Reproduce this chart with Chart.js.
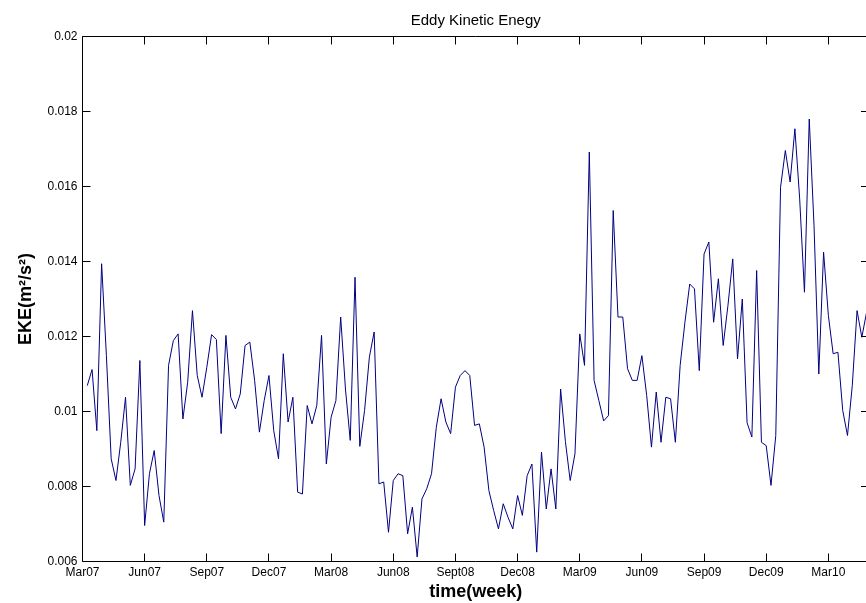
<!DOCTYPE html>
<html>
<head>
<meta charset="utf-8">
<title>Eddy Kinetic Enegy</title>
<script src="https://cdn.jsdelivr.net/npm/chart.js@4.4.1/dist/chart.umd.min.js"></script>
<style>
  html, body { margin: 0; padding: 0; background: #fff; overflow: hidden; }
  canvas { display: block; }
</style>
</head>
<body>
<canvas id="ekeChart" width="872" height="603"></canvas>
<script>
// weekly EKE, first value is week 1 after the Mar07 tick
const ekeValues = [
  0.01069, 0.01112, 0.00949, 0.01394, 0.01149, 0.00874, 0.00816, 0.00918, 0.01038, 0.00803,
  0.00847, 0.01136, 0.00696, 0.00834, 0.00896, 0.00776, 0.00705, 0.01123, 0.01189, 0.01207,
  0.00980, 0.01078, 0.01269, 0.01096, 0.01038, 0.01118, 0.01205, 0.01192, 0.00941, 0.01203,
  0.01038, 0.01007, 0.01047, 0.01176, 0.01185, 0.01083, 0.00945, 0.01029, 0.01096, 0.00949,
  0.00874, 0.01154, 0.00972, 0.01038, 0.00785, 0.00780, 0.01016, 0.00967, 0.01016, 0.01203,
  0.00860, 0.00985, 0.01029, 0.01252, 0.01060, 0.00923, 0.01358, 0.00907, 0.01003, 0.01145,
  0.01212, 0.00807, 0.00812, 0.00678, 0.00816, 0.00834, 0.00829, 0.00674, 0.00745, 0.00612,
  0.00767, 0.00794, 0.00834, 0.00958, 0.01034, 0.00972, 0.00941, 0.01065, 0.01096, 0.01109,
  0.01096, 0.00963, 0.00967, 0.00905, 0.00789, 0.00736, 0.00687, 0.00754, 0.00718, 0.00687,
  0.00776, 0.00723, 0.00829, 0.00860, 0.00625, 0.00892, 0.00740, 0.00847, 0.00740, 0.01060,
  0.00920, 0.00816, 0.00887, 0.01207, 0.01123, 0.01692, 0.01083, 0.01029, 0.00975, 0.00989,
  0.01536, 0.01252, 0.01252, 0.01114, 0.01083, 0.01083, 0.01149, 0.01043, 0.00905, 0.01052,
  0.00918, 0.01038, 0.01034, 0.00918, 0.01123, 0.01238, 0.01340, 0.01327, 0.01109, 0.01420,
  0.01452, 0.01238, 0.01354, 0.01176, 0.01283, 0.01407, 0.01140, 0.01300, 0.00970, 0.00932,
  0.01376, 0.00918, 0.00909, 0.00803, 0.00936, 0.01598, 0.01696, 0.01612, 0.01754, 0.01567,
  0.01318, 0.01780, 0.01496, 0.01100, 0.01425, 0.01256, 0.01154, 0.01158, 0.01003, 0.00936,
  0.01069, 0.01269, 0.01198, 0.01265
];

// x ticks every 13 weeks (one season)
const weekTicks = [0, 13, 26, 39, 52, 65, 78, 91, 104, 117, 130, 143, 156];
const weekLabels = ['Mar07', 'Jun07', 'Sep07', 'Dec07', 'Mar08', 'Jun08', 'Sept08',
                    'Dec08', 'Mar09', 'Jun09', 'Sep09', 'Dec09', 'Mar10'];

const ekeTicks = [0.006, 0.008, 0.01, 0.012, 0.014, 0.016, 0.018, 0.02];
const ekeTickLabels = ['0.006', '0.008', '0.01', '0.012', '0.014', '0.016', '0.018', '0.02'];

const points = ekeValues.map((v, i) => ({ x: i + 1, y: v }));

const FONT = "'Liberation Sans', Arial, Helvetica, sans-serif";

// box round the axes with ticks pointing inwards
const axesBox = {
  id: 'axesBox',
  afterDatasetsDraw(chart) {
    const { ctx, chartArea: a, scales } = chart;
    const len = 8;
    ctx.save();
    ctx.strokeStyle = '#000';
    ctx.lineWidth = 1;
    ctx.beginPath();
    scales.x.ticks.forEach(t => {
      const px = Math.floor(scales.x.getPixelForValue(t.value)) + 0.5;
      ctx.moveTo(px, a.bottom); ctx.lineTo(px, a.bottom - len);
      ctx.moveTo(px, a.top); ctx.lineTo(px, a.top + len);
    });
    scales.y.ticks.forEach(t => {
      const py = Math.floor(scales.y.getPixelForValue(t.value)) + 0.5;
      ctx.moveTo(a.left, py); ctx.lineTo(a.left + len, py);
      ctx.moveTo(a.right, py); ctx.lineTo(a.right - len, py);
    });
    ctx.rect(a.left, a.top, a.right - a.left, a.bottom - a.top);
    ctx.stroke();
    ctx.restore();
  }
};

new Chart(document.getElementById('ekeChart'), {
  type: 'line',
  data: {
    datasets: [{
      data: points,
      borderColor: '#000080',
      borderWidth: 1,
      pointRadius: 0,
      tension: 0,
      fill: false
    }]
  },
  options: {
    responsive: false,
    animation: false,
    events: [],
    layout: { padding: { left: 0, right: 3, top: 0, bottom: 0 } },
    plugins: {
      legend: { display: false },
      tooltip: { enabled: false },
      title: {
        display: true,
        text: 'Eddy Kinetic Enegy',
        fullSize: false,
        color: '#000',
        font: { family: FONT, size: 15, weight: 'normal' },
        padding: { top: 12, bottom: 6.5 }
      }
    },
    scales: {
      x: {
        type: 'linear',
        min: 0,
        max: 164.5,
        grid: { display: false, drawTicks: false },
        border: { display: false },
        afterBuildTicks: s => { s.ticks = weekTicks.map(v => ({ value: v })); },
        afterFit: s => { s.height = 41.5; },
        ticks: {
          autoSkip: false,
          maxRotation: 0,
          padding: 3.5,
          color: '#000',
          font: { family: FONT, size: 12 },
          callback: (v, i) => weekLabels[i]
        },
        title: {
          display: true,
          text: 'time(week)',
          color: '#000',
          font: { family: FONT, size: 18, weight: 'bold' },
          padding: 0
        }
      },
      y: {
        type: 'linear',
        min: 0.006,
        max: 0.02,
        grid: { display: false, drawTicks: false },
        border: { display: false },
        afterBuildTicks: s => { s.ticks = ekeTicks.map(v => ({ value: v })); },
        afterFit: s => { s.width = 82.5; },
        ticks: {
          padding: 5,
          color: '#000',
          font: { family: FONT, size: 12 },
          callback: (v, i) => ekeTickLabels[i]
        },
        title: {
          display: true,
          text: 'EKE(m²/s²)',
          color: '#000',
          font: { family: FONT, size: 18, weight: 'bold' },
          padding: { top: 15, bottom: 0 }
        }
      }
    }
  },
  plugins: [axesBox]
});
</script>
</body>
</html>
